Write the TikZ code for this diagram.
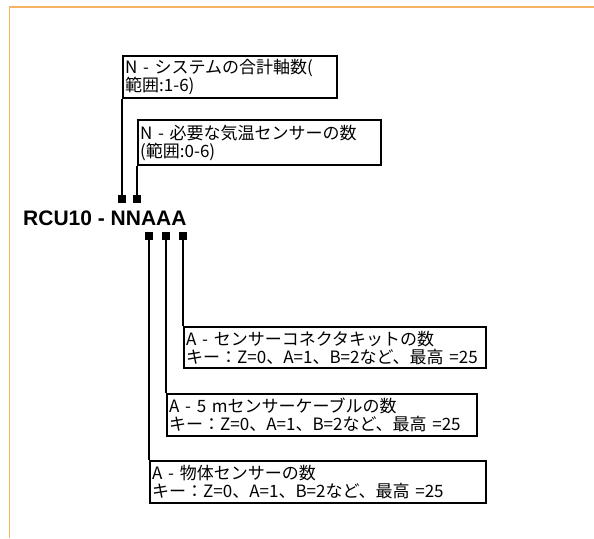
\documentclass[tikz,border=0pt]{standalone}
\usepackage{fontspec}
\setmainfont{Liberation Sans}
\newfontfamily\jp{Noto Sans CJK JP}
\definecolor{frameorange}{HTML}{F6B266}
\begin{document}
\begin{tikzpicture}[x=1pt,y=-1pt,
  lbl/.style={draw, line width=2.4pt, inner xsep=2pt, inner ysep=0pt, anchor=north west,
    align=left, font=\jp\fontsize{17}{18}\selectfont},
  conn/.style={line width=2.4pt},
  pin/.style={fill, minimum size=8pt, inner sep=0pt},
  frame/.style={draw=frameorange, line width=1.8pt}]
\useasboundingbox (0,0) rectangle (594,538);
\draw[frame] (9.5,538) -- (9.5,7) -- (594,7);

\node[lbl, minimum width=214pt, minimum height=42pt, text width=210pt] (b1) at (122,55)
  {N - システムの合計軸数(\\範囲:1-6)};
\node[lbl, minimum width=243pt, minimum height=45pt, text width=239pt] (b2) at (137,119)
  {N - 必要な気温センサーの数\\(範囲:0-6)};
\node[lbl, minimum width=302pt, minimum height=41pt, text width=298pt] (b3) at (183,326)
  {A - センサーコネクタキットの数\\キー：Z=0、A=1、B=2など、最高 =25};
\node[lbl, minimum width=310pt, minimum height=42pt, text width=306pt] (b4) at (166,393)
  {A - 5 mセンサーケーブルの数\\キー：Z=0、A=1、B=2など、最高 =25};
\node[lbl, minimum width=336pt, minimum height=42pt, text width=332pt] (b5) at (149,460)
  {A - 物体センサーの数\\キー：Z=0、A=1、B=2など、最高 =25};

\node[anchor=base west, inner sep=0pt, font=\bfseries\fontsize{21}{22}\selectfont] (code) at (23,225) {RCU10 - NNAAA};

\node[pin] (p1) at (122,199) {};
\node[pin] (p2) at (137,199) {};
\node[pin] (p3) at (149,236) {};
\node[pin] (p4) at (166,236) {};
\node[pin] (p5) at (183,236) {};

\draw[conn] (p1.center) -- (b1.south west);
\draw[conn] (p2.center) -- (b2.south west);
\draw[conn] (p3.center) -- (b5.north west);
\draw[conn] (p4.center) -- (b4.north west);
\draw[conn] (p5.center) -- (b3.north west);
\end{tikzpicture}
\end{document}
